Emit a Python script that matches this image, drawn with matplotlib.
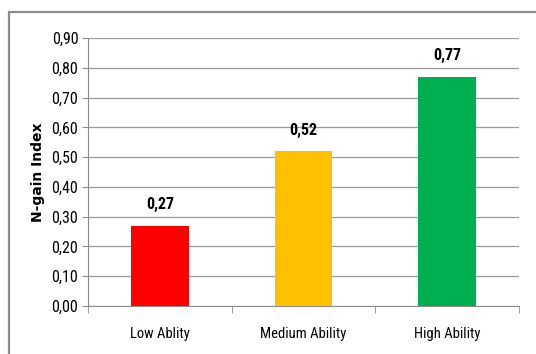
import matplotlib
matplotlib.use("Agg")
import matplotlib.pyplot as plt
from matplotlib.patches import Rectangle
from matplotlib.font_manager import fontManager

categories = ["Low Ablity", "Medium Ability", "High Ability"]
values = [0.27, 0.52, 0.77]
labels = ["0,27", "0,52", "0,77"]
colors = ["#FF0000", "#FFC000", "#00B050"]
yticks = [0.0, 0.1, 0.2, 0.3, 0.4, 0.5, 0.6, 0.7, 0.8, 0.9]
ytick_labels = ["0,00", "0,10", "0,20", "0,30", "0,40", "0,50", "0,60", "0,70", "0,80", "0,90"]

names = {f.name for f in fontManager.ttflist}
stretch = "normal"
fam = None
for cand in ["Liberation Sans Narrow", "Roboto Condensed", "Open Sans Condensed"]:
    if cand in names:
        fam = cand
        break
if fam is None:
    fam = "DejaVu Sans"
    stretch = "condensed"
plt.rcParams['font.family'] = [fam, 'DejaVu Sans']
plt.rcParams['font.stretch'] = stretch

fig = plt.figure(figsize=(5.36, 3.54), dpi=100)
fig.patches.append(Rectangle((9/536, -0.1), 1.2, 1 - 12/354 + 0.1, transform=fig.transFigure,
                             fill=False, edgecolor="#8c8c8c", linewidth=1.6))
ax = fig.add_axes([88/536, 1 - 306/354, (519 - 88)/536, (306 - 38)/354])

x = list(range(len(categories)))
ax.bar(x, values, width=0.4, color=colors, zorder=3)
for xi, v, lab in zip(x, values, labels):
    ax.text(xi, v + 0.045, lab, ha="center", va="bottom", fontsize=11.5, fontweight="bold")

ax.set_xlim(-0.5, 2.5)
ax.set_ylim(0, 0.9)
ax.set_yticks(yticks)
ax.set_yticklabels(ytick_labels, fontsize=11.5)
ax.set_xticks(x)
ax.set_xticklabels(categories, fontsize=10.5)
ax.tick_params(axis="x", length=0, pad=15)
ax.set_xticks([-0.5, 0.5, 1.5, 2.5], minor=True)
ax.tick_params(axis="x", which="minor", length=5, color="#8c8c8c")
ax.tick_params(axis="y", length=4, color="#8c8c8c", pad=3)
ax.grid(axis="y", color="#9a9a9a", linewidth=0.9, zorder=0)
for s in ["top", "right"]:
    ax.spines[s].set_visible(False)
ax.spines["left"].set_color("#8c8c8c")
ax.spines["bottom"].set_color("#8c8c8c")
ax.set_ylabel("N-gain Index", fontsize=10, fontweight="bold", labelpad=5,
              family=["DejaVu Sans"], fontstretch="normal")

fig.savefig("out.png", dpi=100)
